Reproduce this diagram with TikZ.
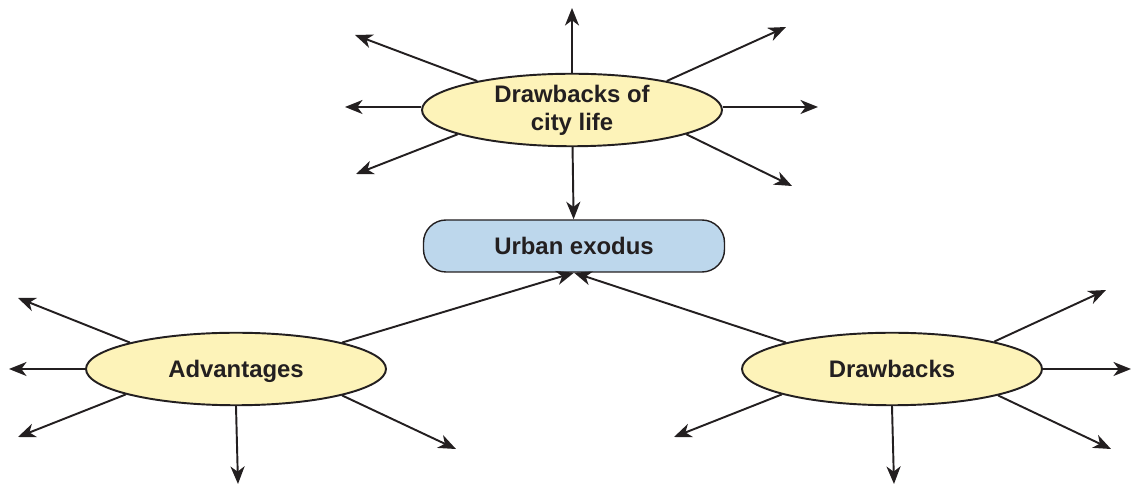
\documentclass[tikz,border=0pt]{standalone}
\usepackage{fontspec}
\setmainfont{Liberation Sans}
\usetikzlibrary{shapes.geometric,arrows.meta,positioning}
\definecolor{ovalfill}{HTML}{FDF3B9}
\definecolor{boxfill}{HTML}{BDD7EC}
\definecolor{inkdark}{HTML}{231F20}

\begin{document}
\begin{tikzpicture}[
  font=\fontsize{13.6}{16}\selectfont\bfseries,
  every node/.style={text=inkdark},
  oval/.style={ellipse, draw=inkdark, line width=1.1pt, fill=ovalfill,
    minimum width=6cm, minimum height=1.45cm, inner sep=0pt, align=center},
  topic/.style={rectangle, rounded corners=0.45cm, draw=inkdark, line width=0.8pt,
    fill=boxfill, minimum width=6.02cm, minimum height=1.04cm},
  ray/.style={draw=inkdark, line width=1.1pt,
    -{Stealth[length=10pt, width=8pt, inset=3pt]}}
]
\useasboundingbox (0,0) rectangle (22.68,9.70);

% ------------------------
% Main nodes
% ------------------------
\node[oval]  (city)  at (11.44,7.50) {Drawbacks of\\city life};
\node[topic] (urban) at (11.48,4.78) {Urban exodus};
\node[oval, text depth=0pt]  (adv) at (4.72,2.32)  {Advantages};
\node[oval, text depth=0pt]  (drw) at (17.84,2.32) {Drawbacks};

% Free ends
\coordinate (cN)  at (11.44,9.54);
\coordinate (cNW) at (7.10,9.00);
\coordinate (cNE) at (15.72,9.16);
\coordinate (cW)  at (6.90,7.56);
\coordinate (cE)  at (16.36,7.56);
\coordinate (cSW) at (7.12,6.22);
\coordinate (cSE) at (15.84,5.98);

\coordinate (aNW) at (0.36,3.74);
\coordinate (aW)  at (0.18,2.32);
\coordinate (aSW) at (0.36,0.96);
\coordinate (aS)  at (4.76,0.02);
\coordinate (aSE) at (9.12,0.72);

\coordinate (dNE) at (22.12,3.90);
\coordinate (dE)  at (22.62,2.32);
\coordinate (dSE) at (22.22,0.72);
\coordinate (dS)  at (17.88,0.02);
\coordinate (dSW) at (13.48,0.96);

% Drawbacks of city life
\draw[ray] (city.90)  -- (cN);
\draw[ray] (city.163) -- (cNW);
\draw[ray] (city.17)  -- (cNE);
\draw[ray] (city.west |- cW) -- (cW);
\draw[ray] (city.east |- cE) -- (cE);
\draw[ray] (city.192) -- (cSW);
\draw[ray] (city.348) -- (cSE);
\draw[ray] (city) -- (urban);

% Advantages
\draw[ray] (adv.166) -- (aNW);
\draw[ray] (adv.west) -- (aW);
\draw[ray] (adv.193) -- (aSW);
\draw[ray] (adv.south) -- (aS);
\draw[ray] (adv.346) -- (aSE);
\draw[ray] (adv.14) -- (urban.south);

% Drawbacks
\draw[ray] (drw.15) -- (dNE);
\draw[ray] (drw.east) -- (dE);
\draw[ray] (drw.346) -- (dSE);
\draw[ray] (drw.south) -- (dS);
\draw[ray] (drw.193) -- (dSW);
\draw[ray] (drw.166) -- (urban.south);

\end{tikzpicture}
\end{document}
